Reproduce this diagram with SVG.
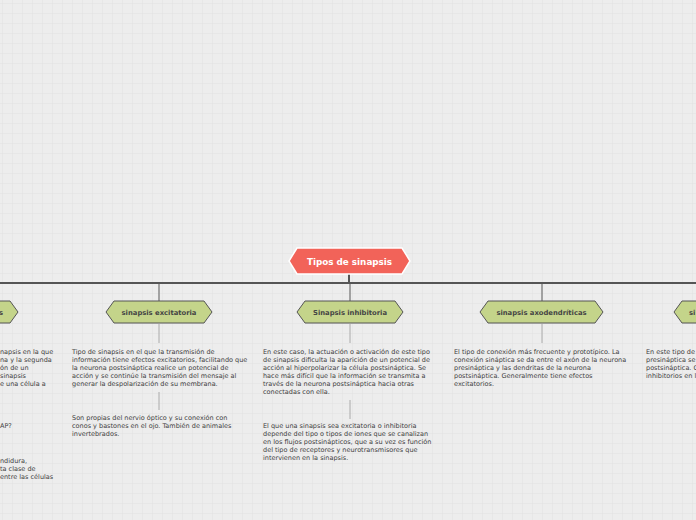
<svg xmlns="http://www.w3.org/2000/svg" width="696" height="520" viewBox="0 0 696 520">
<defs>
<pattern id="grid" x="2" y="3" width="10" height="10" patternUnits="userSpaceOnUse">
<path d="M10 0H0V10" fill="none" stroke="#e1e1e1" stroke-width="1"/>
</pattern>
<style>
.bg{fill:#ededed}
.root{fill:#f26359;stroke:#ffffff;stroke-width:1.5}
.rootT{font-family:"DejaVu Sans",Verdana,sans-serif;font-weight:bold;font-size:8.8px;fill:#ffffff;text-anchor:middle}
.node{fill:#c4d48a;stroke:#555555;stroke-width:1}
.nodeT{font-family:"DejaVu Sans",Verdana,sans-serif;font-weight:bold;font-size:6.8px;fill:#444444;text-anchor:middle}
.desc{font-family:"DejaVu Sans",Verdana,sans-serif;font-size:6.5px;fill:#3e3e3e}
.main{stroke:#555555;stroke-width:2;fill:none}
.branch{stroke:#888888;stroke-width:1.5;fill:none}
.sub{stroke:#aaaaaa;stroke-width:1;fill:none}
</style>
</defs>
<rect class="bg" width="696" height="520"/>
<rect width="696" height="520" fill="url(#grid)"/>

<g id="connectors">
<line class="main" x1="0" y1="283" x2="349" y2="283" stroke="#4a4a4a"/>
<line class="main" x1="349" y1="283" x2="696" y2="283" stroke="#666666"/>
<line class="main" x1="349" y1="274" x2="349" y2="283" stroke="#333333"/>
<line class="branch" x1="159" y1="284" x2="159" y2="301"/>
<line class="branch" x1="350" y1="284" x2="350" y2="301"/>
<line class="branch" x1="542" y1="284" x2="542" y2="301"/>
<line class="sub" x1="159" y1="324" x2="159" y2="343"/>
<line class="sub" x1="350" y1="324" x2="350" y2="343"/>
<line class="sub" x1="542" y1="324" x2="542" y2="343"/>
<line class="sub" x1="159" y1="392" x2="159" y2="410"/>
<line class="sub" x1="350" y1="400" x2="350" y2="419"/>
</g>

<g id="root">
<polygon class="root" points="297,248 402,248 410,261 402,274 297,274 289,261"/>
<text class="rootT" x="349.5" y="264.5">Tipos de sinapsis</text>
</g>

<g id="node-left">
<polygon class="node" points="-80,301 10,301 18,312 10,323 -80,323 -88,312"/>
<text class="nodeT" x="3" y="314.5" style="text-anchor:end">s</text>
</g>
<g id="desc-left">
<text class="desc" x="0" y="354">napsis en la que</text>
<text class="desc" x="0" y="362">na y la segunda</text>
<text class="desc" x="0" y="370">ón de un</text>
<text class="desc" x="0" y="378"> sinapsis</text>
<text class="desc" x="0" y="386">e una célula a</text>
<text class="desc" x="0" y="428">AP?</text>
<text class="desc" x="0" y="463">ndidura,</text>
<text class="desc" x="0" y="471">ta clase de</text>
<text class="desc" x="0" y="479">entre las células</text>
</g>

<g id="node-excitatoria">
<polygon class="node" points="114,301 204,301 212,312 204,323 114,323 106,312"/>
<text class="nodeT" x="159" y="314.5">sinapsis excitatoria</text>
</g>
<g id="desc-excitatoria">
<text class="desc" x="72" y="354">Tipo de sinapsis en el que la transmisión de</text>
<text class="desc" x="72" y="362">información tiene efectos excitatorios, facilitando que</text>
<text class="desc" x="72" y="370">la neurona postsináptica realice un potencial de</text>
<text class="desc" x="72" y="378">acción y se continúe la transmisión del mensaje al</text>
<text class="desc" x="72" y="386">generar la despolarización de su membrana.</text>
</g>
<g id="desc-excitatoria-2">
<text class="desc" x="72" y="420">Son propias del nervio óptico y su conexión con</text>
<text class="desc" x="72" y="428">conos y bastones en el ojo. También de animales</text>
<text class="desc" x="72" y="436">invertebrados.</text>
</g>

<g id="node-inhibitoria">
<polygon class="node" points="305,301 395,301 403,312 395,323 305,323 297,312"/>
<text class="nodeT" x="350" y="314.5">Sinapsis inhibitoria</text>
</g>
<g id="desc-inhibitoria">
<text class="desc" x="263" y="354">En este caso, la actuación o activación de este tipo</text>
<text class="desc" x="263" y="362">de sinapsis dificulta la aparición de un potencial de</text>
<text class="desc" x="263" y="370">acción al hiperpolarizar la célula postsináptica. Se</text>
<text class="desc" x="263" y="378">hace más difícil que la información se transmita a</text>
<text class="desc" x="263" y="386">través de la neurona postsináptica hacia otras</text>
<text class="desc" x="263" y="394">conectadas con ella.</text>
</g>
<g id="desc-inhibitoria-2">
<text class="desc" x="263" y="428">El que una sinapsis sea excitatoria o inhibitoria</text>
<text class="desc" x="263" y="436">depende del tipo o tipos de iones que se canalizan</text>
<text class="desc" x="263" y="444">en los flujos postsinápticos, que a su vez es función</text>
<text class="desc" x="263" y="452">del tipo de receptores y neurotransmisores que</text>
<text class="desc" x="263" y="460">intervienen en la sinapsis.</text>
</g>

<g id="node-axodendriticas">
<polygon class="node" points="488,301 595,301 603,312 595,323 488,323 480,312"/>
<text class="nodeT" x="541.5" y="314.5">sinapsis axodendríticas</text>
</g>
<g id="desc-axodendriticas">
<text class="desc" x="454" y="354">El tipo de conexión más frecuente y prototípico. La</text>
<text class="desc" x="454" y="362">conexión sináptica se da entre el axón de la neurona</text>
<text class="desc" x="454" y="370">presináptica y las dendritas de la neurona</text>
<text class="desc" x="454" y="378">postsináptica. Generalmente tiene efectos</text>
<text class="desc" x="454" y="386">excitatorios.</text>
</g>

<g id="node-right">
<polygon class="node" points="682,301 780,301 788,312 780,323 682,323 674,312"/>
<text class="nodeT" x="689" y="314.5" style="text-anchor:start">si</text>
</g>
<g id="desc-right">
<text class="desc" x="646" y="354">En este tipo de</text>
<text class="desc" x="646" y="362">presináptica se</text>
<text class="desc" x="646" y="370">postsináptica. G</text>
<text class="desc" x="646" y="378">inhibitorios en l</text>
</g>
</svg>
